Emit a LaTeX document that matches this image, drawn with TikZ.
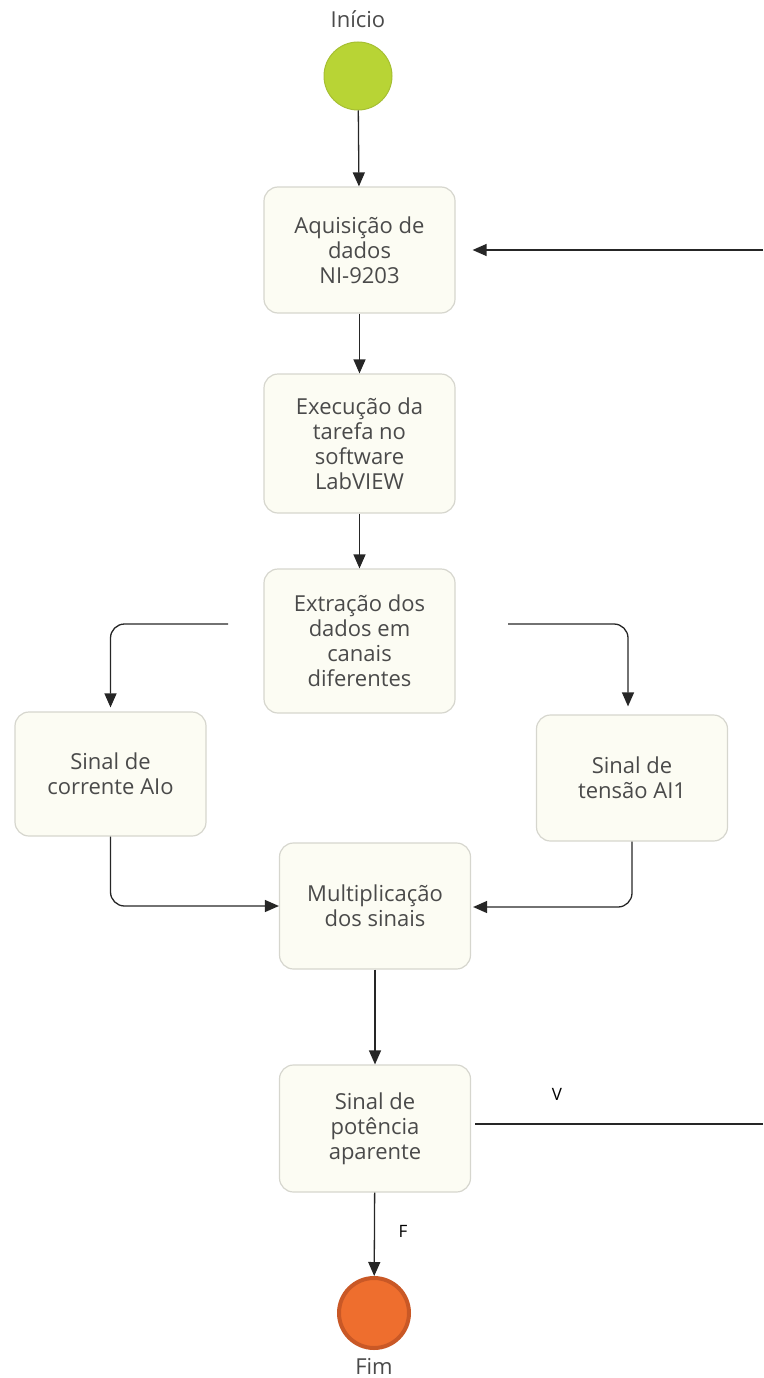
\documentclass[tikz,border=0pt]{standalone}
\usepackage{fontspec}
\setmainfont{Open Sans}
\usetikzlibrary{arrows.meta,calc}
\definecolor{boxfill}{HTML}{FCFCF3}
\definecolor{boxdraw}{HTML}{D6D6CE}
\definecolor{txt}{HTML}{4A4A4A}
\definecolor{startfill}{HTML}{B8D435}
\definecolor{startdraw}{HTML}{A6BF33}
\definecolor{endfill}{HTML}{EE6E2E}
\definecolor{enddraw}{HTML}{C95826}
\tikzset{
  stepbox/.style={draw=boxdraw,fill=boxfill,line width=1.2pt,rounded corners=14pt,
    minimum width=191pt,inner sep=0pt,align=center,text=txt,
    font=\fontsize{22}{25}\selectfont},
  flow/.style={draw=black!85,line width=1.3pt,-{Triangle[length=14pt,width=12pt]},rounded corners=14pt},
  plain/.style={draw=black!85,line width=1.3pt},
  lbl/.style={text=txt,font=\fontsize{22}{24}\selectfont},
  cond/.style={text=black,font=\fontsize{17}{18}\selectfont}
}
\begin{document}
\begin{tikzpicture}[x=1pt,y=-1pt]
\useasboundingbox (0,0) rectangle (763,1378);
\node[lbl] (tstart) at (358,19) {Início};
\node[circle,fill=startfill,draw=startdraw,line width=1pt,minimum size=68pt,inner sep=0pt] (start) at (358,76) {};
\node[stepbox,minimum height=126pt] (b1) at (359.5,250) {Aquisição de\\dados\\NI-9203};
\node[stepbox,minimum height=139pt] (b2) at (359.5,443.5) {Execução da\\tarefa no\\software\\LabVIEW};
\node[stepbox,minimum height=144pt] (b3) at (359.5,641) {Extração dos\\dados em\\canais\\diferentes};
\node[stepbox,minimum height=124pt] (b4) at (110.5,774) {Sinal de\\corrente AIo};
\node[stepbox,minimum height=126pt] (b5) at (632,778) {Sinal de\\tensão AI1};
\node[stepbox,minimum height=126pt] (b6) at (375,906) {Multiplicação\\dos sinais};
\node[stepbox,minimum height=127pt] (b7) at (375,1128.5) {Sinal de\\potência\\aparente};
\node[circle,fill=endfill,draw=enddraw,line width=4pt,minimum size=70pt,inner sep=0pt] (end) at (374,1313) {};
\node[lbl] (tend) at (374,1366) {Fim};
\coordinate (loopin) at (763,250);
\coordinate (loopout) at (763,1124);
\coordinate (lstart) at (228,624);
\coordinate (rstart) at (508,624);
\node[cond] (v) at (557,1094) {V};
\node[cond] (f) at (403,1231) {F};
\draw[flow] (start) -- (b1);
\draw[flow] (b1) -- (b2);
\draw[flow] (b2) -- (b3);
\draw[flow] (loopin) -- ($(b1.east)+(17,0)$);
\draw[flow] (lstart) -| ($(b4.north)+(0,-4)$);
\draw[flow] (rstart) -| ($(b5.north)+(-4,-8)$);
\draw[flow] (b4.south) |- (b6.west);
\draw[flow] (b5.south) |- ($(b6.east)+(2,1)$);
\draw[flow] (b6) -- (b7);
\draw[plain] ($(b7.east)+(4,-4.5)$) -- (loopout);
\draw[flow] (b7) -- (end);
\end{tikzpicture}
\end{document}
